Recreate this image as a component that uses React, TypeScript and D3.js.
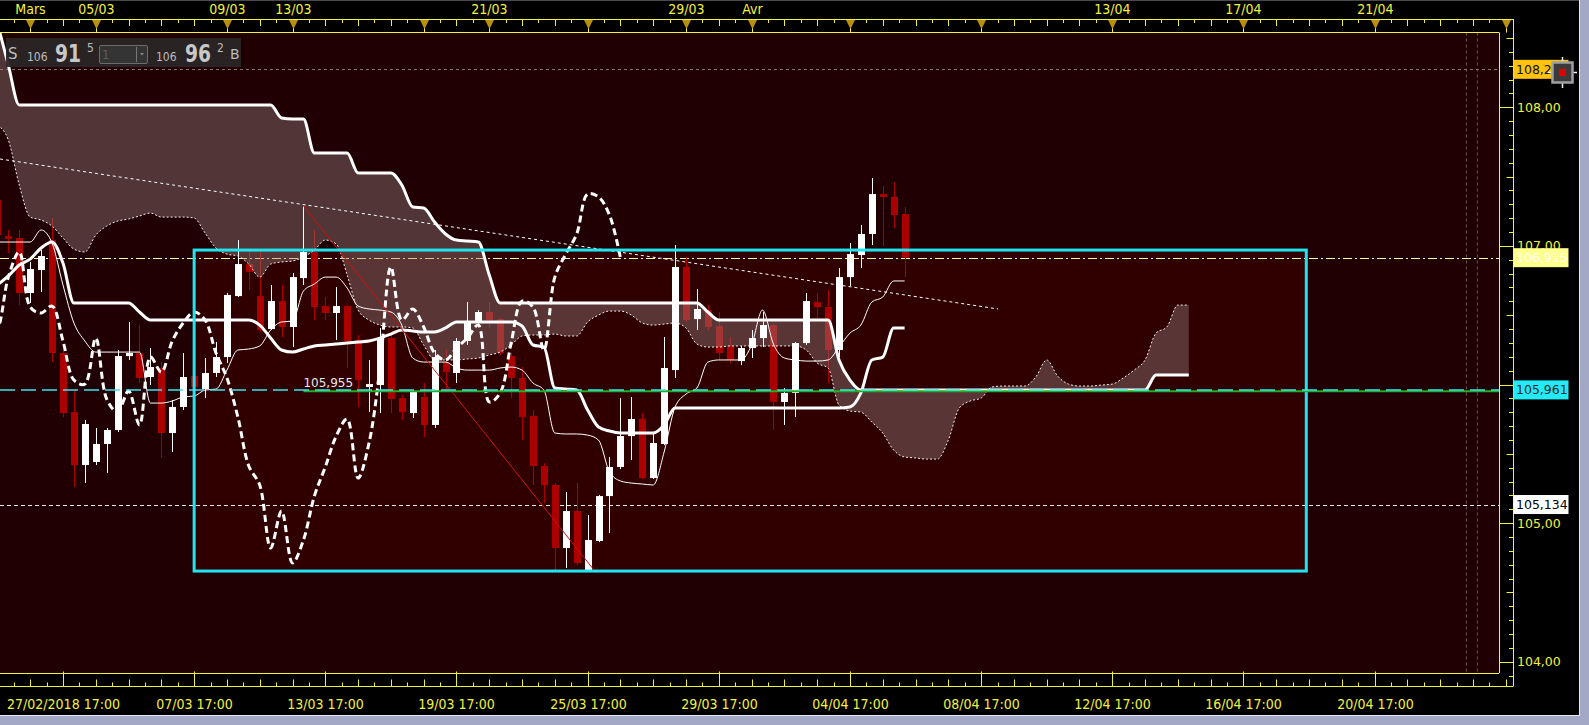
import * as d3 from 'd3';

const W = 1589;
const H = 725;

// 8h bars, index 0 = partial bar on the left edge
const opens = [
  107.331, 107.071, 107.057, 106.66, 106.826, 107.042, 106.227, 105.801, 105.419, 105.441,
  105.571, 105.672, 106.205, 106.227, 106.054, 106.119, 105.65, 105.838, 106.061, 105.967,
  106.083, 106.198, 106.638, 106.869, 106.638, 106.4, 106.602, 106.415, 106.768, 106.956,
  106.566, 106.516, 106.566, 106.321, 105.982, 105.996, 106.335, 105.902, 105.794, 105.91,
  105.708, 106.162, 106.083, 106.314, 106.451, 106.523, 106.472, 106.205, 106.047, 105.773,
  105.412, 105.275, 104.82, 105.087, 104.647, 104.871, 105.195, 105.405, 105.628, 105.751,
  105.325, 105.571, 106.104, 106.848, 106.472, 106.537, 106.422, 106.278, 106.169, 106.263,
  106.335, 106.429, 105.874, 105.939, 106.299, 106.595, 106.559, 106.249, 106.775, 106.934,
  107.086, 107.374, 107.353, 107.23,
];
const highs = [
  107.367, 107.115, 107.115, 106.884, 106.97, 107.201, 106.249, 105.96, 105.744, 105.686,
  105.686, 106.249, 106.451, 106.429, 106.263, 106.162, 105.888, 106.227, 106.198, 106.191,
  106.307, 106.66, 107.042, 106.97, 106.97, 106.718, 106.718, 106.804, 107.288, 107.115,
  106.631, 106.703, 106.573, 106.357, 106.177, 106.408, 106.379, 105.924, 105.96, 106.011,
  106.249, 106.249, 106.335, 106.595, 106.537, 106.595, 106.48, 106.227, 106.126, 105.816,
  105.433, 105.289, 105.224, 105.289, 105.058, 105.203, 105.477, 105.902, 105.91, 105.794,
  105.657, 106.343, 107.006, 106.92, 106.689, 106.573, 106.523, 106.343, 106.278, 106.393,
  106.523, 106.444, 105.975, 106.307, 106.66, 106.66, 106.682, 106.84, 107.021, 107.151,
  107.49, 107.432, 107.461, 107.28,
];
const lows = [
  107.006, 106.949, 106.573, 106.588, 106.667, 106.162, 105.765, 105.26, 105.289, 105.419,
  105.361, 105.657, 106.177, 106.011, 105.996, 105.47, 105.513, 105.816, 105.91, 105.902,
  106.054, 106.155, 106.631, 106.682, 106.379, 106.393, 106.343, 106.27, 106.718, 106.465,
  106.465, 106.321, 106.119, 105.838, 105.801, 105.794, 105.794, 105.744, 105.758, 105.621,
  105.686, 105.96, 106.011, 106.285, 106.444, 106.408, 106.213, 105.902, 105.599, 105.275,
  105.145, 104.647, 104.676, 104.698, 104.647, 104.863, 104.928, 105.39, 105.455, 105.318,
  105.318, 105.563, 106.047, 106.451, 106.393, 106.393, 106.177, 106.155, 106.14, 106.191,
  106.27, 105.672, 105.708, 105.765, 106.285, 106.465, 106.011, 106.198, 106.711, 106.84,
  107.006, 106.999, 107.129, 106.776,
];
const closes = [
  107.079, 107.05, 106.66, 106.833, 106.927, 106.227, 105.794, 105.419, 105.715, 105.571,
  105.672, 106.205, 106.227, 106.047, 106.126, 105.65, 105.838, 106.054, 105.982, 106.083,
  106.198, 106.646, 106.869, 106.812, 106.393, 106.602, 106.415, 106.775, 106.956, 106.559,
  106.516, 106.566, 106.314, 106.032, 106.003, 106.335, 105.895, 105.801, 105.953, 105.708,
  106.198, 106.09, 106.314, 106.444, 106.523, 106.465, 106.227, 106.047, 105.765, 105.412,
  105.275, 104.82, 105.087, 104.712, 104.878, 105.195, 105.405, 105.628, 105.751, 105.325,
  105.578, 106.119, 106.848, 106.465, 106.545, 106.415, 106.227, 106.177, 106.263, 106.335,
  106.429, 105.874, 105.939, 106.299, 106.602, 106.559, 106.249, 106.775, 106.941, 107.086,
  107.374, 107.353, 107.223, 106.915,
];

// Ichimoku lines
const tenkan = [
  107.028, 107.028, 107.028, 107.028, 107.115, 107.021, 106.718, 106.444, 106.314, 106.234,
  106.234, 106.234, 106.234, 106.234, 105.866, 105.866, 105.881, 105.91, 105.917, 105.96,
  105.967, 106.104, 106.249, 106.256, 106.278, 106.393, 106.451, 106.458, 106.674, 106.725,
  106.775, 106.775, 106.696, 106.566, 106.545, 106.537, 106.523, 106.429, 106.191, 106.162,
  106.162, 106.162, 106.119, 106.104, 106.104, 106.104, 106.119, 106.126, 106.104, 106.011,
  105.96, 105.65, 105.643, 105.643, 105.635, 105.599, 105.369, 105.304, 105.289, 105.282,
  105.275, 105.513, 105.837, 105.931, 105.975, 106.162, 106.177, 106.177, 106.177, 106.285,
  106.537, 106.292, 106.191, 106.177, 106.169, 106.169, 106.177, 106.27, 106.371, 106.429,
  106.595, 106.631, 106.747, 106.747,
];
const kijun = [
  106.718, 106.783, 106.862, 106.905, 106.985, 107.028, 106.876, 106.588, 106.588, 106.588,
  106.588, 106.588, 106.588, 106.523, 106.465, 106.465, 106.465, 106.465, 106.465, 106.465,
  106.465, 106.465, 106.465, 106.465, 106.429, 106.335, 106.249, 106.234, 106.256, 106.278,
  106.285, 106.292, 106.299, 106.307, 106.314, 106.335, 106.364, 106.393, 106.386, 106.379,
  106.379, 106.408, 106.451, 106.451, 106.451, 106.451, 106.451, 106.451, 106.422, 106.285,
  106.27, 105.975, 105.967, 105.96, 105.816, 105.693, 105.664, 105.65, 105.65, 105.65,
  105.65, 105.708, 105.83, 105.83, 105.83, 105.83, 105.83, 105.83, 105.83, 105.83,
  105.83, 105.83, 105.83, 105.83, 105.83, 105.83, 105.83, 105.83, 105.837, 105.939,
  106.177, 106.198, 106.408, 106.408,
];
// senkou spans, already projected 26 bars ahead (index 0..109)
const senkouA = [
  107.872, 107.764, 107.439, 107.208, 107.187, 107.143, 107.057, 106.977, 106.956, 107.078,
  107.143, 107.179, 107.194, 107.216, 107.237, 107.208, 107.208, 107.208, 107.201, 107.093,
  106.985, 106.941, 106.927, 106.869, 106.775, 106.869, 106.884, 106.891, 106.92, 106.97,
  107.042, 107.014, 106.79, 106.537, 106.465, 106.429, 106.415, 106.415, 106.408, 106.285,
  106.177, 106.177, 106.177, 106.184, 106.191, 106.213, 106.234, 106.285, 106.35, 106.357,
  106.357, 106.364, 106.35, 106.35, 106.451, 106.501, 106.53, 106.53, 106.501, 106.444,
  106.429, 106.436, 106.444, 106.408, 106.292, 106.27, 106.27, 106.278, 106.278, 106.278,
  106.278, 106.278, 106.278, 106.278, 106.249, 106.155, 106.119, 105.852, 105.809, 105.801,
  105.729, 105.65, 105.527, 105.477, 105.47, 105.462, 105.462, 105.599, 105.83, 105.881,
  105.902, 105.982, 105.989, 105.989, 105.989, 106.054, 106.177, 106.061, 106.003, 105.989,
  105.989, 105.996, 106.003, 106.047, 106.104, 106.177, 106.371, 106.415, 106.573, 106.573,
];
const senkouB = [
  108.608, 108.305, 108.017, 108.017, 108.017, 108.017, 108.017, 108.017, 108.017, 108.017,
  108.017, 108.017, 108.017, 108.017, 108.017, 108.017, 108.017, 108.017, 108.017, 108.017,
  108.017, 108.017, 108.017, 108.017, 108.017, 108.017, 107.923, 107.915, 107.915, 107.67,
  107.67, 107.67, 107.67, 107.526, 107.526, 107.526, 107.526, 107.439, 107.281, 107.273,
  107.172, 107.086, 107.042, 107.035, 107.028, 106.79, 106.588, 106.588, 106.588, 106.588,
  106.588, 106.588, 106.588, 106.588, 106.588, 106.588, 106.588, 106.588, 106.588, 106.588,
  106.588, 106.588, 106.588, 106.588, 106.588, 106.523, 106.465, 106.465, 106.465, 106.465,
  106.465, 106.465, 106.465, 106.465, 106.465, 106.465, 106.465, 106.177, 106.032, 105.961,
  105.961, 105.961, 105.961, 105.961, 105.961, 105.961, 105.961, 105.961, 105.961, 105.961,
  105.961, 105.961, 105.961, 105.961, 105.961, 105.961, 105.961, 105.961, 105.961, 105.961,
  105.961, 105.961, 105.961, 105.961, 105.961, 105.961, 106.068, 106.068, 106.068, 106.068,
];
const CHIKOU_SHIFT = 26;

// drawings
const trendLine: [number, number][] = [[0.24, 107.627], [91.55, 106.545]];
const redLine: [number, number][] = [[28, 107.288], [54.8, 104.64]];
const zoneBox = { from: 18, to: 119.75, top: 106.97, bottom: 104.654 };
const greenLevel = { from: 28, price: 105.955, label: '105,955' };
const markerBars = [134.4, 135.4];

const levels = [
  { price: 108.274, label: '108,274', box: '#ffc20e', text: '#111', stroke: '#8a6e6e', dash: '3,3' },
  { price: 106.915, label: '106,915', box: '#ffff8c', text: '#ffffff', stroke: '#ffffa8', dash: '9,3,2,3' },
  { price: 105.961, label: '105,961', box: '#22eaf6', text: '#2a2a2a', stroke: '#3fe4ee', dash: '15,6' },
  { price: 105.134, label: '105,134', box: '#ffffff', text: '#000', stroke: '#e8e8e8', dash: '4,3' },
];

const priceLabels = [108, 107, 106, 105, 104];

const topMarks = [
  { i: 3, label: 'Mars' }, { i: 9, label: '05/03' }, { i: 21, label: '09/03' },
  { i: 27, label: '13/03' }, { i: 39, label: '' }, { i: 45, label: '21/03' },
  { i: 54, label: '' }, { i: 63, label: '29/03' }, { i: 69, label: 'Avr' },
  { i: 78, label: '' }, { i: 90, label: '' }, { i: 102, label: '13/04' },
  { i: 114, label: '17/04' }, { i: 126, label: '21/04' }, { i: 138, label: '' },
];
const bottomMarks = [
  { i: 6, label: '27/02/2018 17:00' }, { i: 18, label: '07/03 17:00' },
  { i: 30, label: '13/03 17:00' }, { i: 42, label: '19/03 17:00' },
  { i: 54, label: '25/03 17:00' }, { i: 66, label: '29/03 17:00' },
  { i: 78, label: '04/04 17:00' }, { i: 90, label: '08/04 17:00' },
  { i: 102, label: '12/04 17:00' }, { i: 114, label: '16/04 17:00' },
  { i: 126, label: '20/04 17:00' },
];

const PL = 0;
const PR = 1499;
const PT = 32.5;
const PB = 673;
const AX = 1513;

const COND = "'DejaVu Sans Condensed', 'DejaVu Sans', sans-serif";
const SANS = "'DejaVu Sans', Verdana, sans-serif";
const YEL = '#f2f23c';

export default function App() {
  const x = d3.scaleLinear().domain([0, 83]).range([-2.6, 904.6]);
  const y = d3.scaleLinear().domain([104, 108]).range([661.7, 107.3]);

  const idxLine = (arr: number[], curve: d3.CurveFactory = d3.curveMonotoneX) =>
    d3.line<number>().x((_, i) => x(i)).y((d) => y(d)).curve(curve)(arr) || '';

  const cloud =
    d3.area<number>()
      .x((_, i) => x(i))
      .y0((d) => y(d))
      .y1((_, i) => y(senkouB[i]))
      .curve(d3.curveMonotoneX)(senkouA) || '';

  const chikouPts = closes
    .map((c, i) => [i - CHIKOU_SHIFT, c] as [number, number])
    .filter(([j]) => j >= -1);
  const chikou =
    d3.line<[number, number]>().x((d) => x(d[0])).y((d) => y(d[1]))
      .curve(d3.curveCatmullRom.alpha(0.5))(chikouPts) || '';

  const seg = (pts: [number, number][]) =>
    d3.line<[number, number]>().x((d) => x(d[0])).y((d) => y(d[1]))(pts) || '';

  const candles = opens.map((o, i) => ({
    cx: Math.round(x(i)),
    up: closes[i] >= o,
    top: y(Math.max(o, closes[i])),
    bot: y(Math.min(o, closes[i])),
    hi: y(highs[i]),
    lo: y(lows[i]),
  }));

  const candle = (c: typeof candles[number], i: number, color: string) => (
    <g key={i}>
      <line x1={c.cx + 0.5} x2={c.cx + 0.5} y1={c.hi} y2={c.lo} stroke={color} strokeWidth={1} />
      <rect x={c.cx - 3} y={c.top} width={7} height={Math.max(1.5, c.bot - c.top)} fill={color} />
    </g>
  );

  const minorIdx = d3.range(0, 139, 1.5);
  const topMajor = new Set(topMarks.map((m) => m.i));
  const botMajor = new Set(bottomMarks.map((m) => m.i));

  const priceTicks = d3.range(1039, 1086).map((v) => v / 10).filter((v) => y(v) > PT && y(v) < PB + 4);
  // axis labels hidden behind a value box are not drawn
  const shownPriceLabels = priceLabels.filter(
    (v) => !levels.some((l) => Math.abs(y(l.price) - y(v)) < 10)
  );

  return (
    <svg
      width={W}
      height={H}
      style={{ position: 'fixed', left: 0, top: 0, display: 'block' }}
      xmlns="http://www.w3.org/2000/svg"
    >
      <defs>
        <clipPath id="plot">
          <rect x={PL} y={PT} width={PR - PL} height={PB - PT} />
        </clipPath>
      </defs>
      <rect width={W} height={H} fill="#000" />
      <line x1={0} x2={1579} y1={0.5} y2={0.5} stroke="#4a4a4a" />
      <rect x={1579} y={0} width={10} height={H} fill="#a2a8c6" />
      <line x1={1579.5} x2={1579.5} y1={0} y2={H} stroke="#e6e8f2" />
      <rect x={0} y={715} width={W} height={10} fill="#a2a8c6" />
      <line x1={0} x2={1580} y1={715.5} y2={715.5} stroke="#e6e8f2" />

      <g clipPath="url(#plot)">
        <rect x={PL} y={PT} width={PR - PL} height={PB - PT} fill="#210003" />
        <rect
          x={x(zoneBox.from)}
          y={y(zoneBox.top)}
          width={x(zoneBox.to) - x(zoneBox.from)}
          height={y(zoneBox.bottom) - y(zoneBox.top)}
          fill="#300000"
        />
        {markerBars.map((m) => (
          <line key={m} x1={x(m)} x2={x(m)} y1={PT} y2={PB} stroke="#6e5656" strokeDasharray="3,3" />
        ))}
        {levels
          .filter((l) => l.price !== 105.961)
          .map((l) => (
            <line
              key={l.label}
              x1={PL}
              x2={PR}
              y1={Math.round(y(l.price)) + 0.5}
              y2={Math.round(y(l.price)) + 0.5}
              stroke={l.stroke}
              strokeDasharray={l.dash}
              strokeWidth={1}
            />
          ))}

        {candles.map((c, i) => (c.up ? null : candle(c, i, '#ac0000')))}
        <path d={cloud} fill="rgba(150,126,126,0.42)" />
        {candles.map((c, i) => (c.up ? candle(c, i, '#ffffff') : null))}

        <path d={idxLine(senkouA)} fill="none" stroke="#f0f0f0" strokeWidth={1} strokeDasharray="2,2" />
        <path d={idxLine(senkouB)} fill="none" stroke="#fff" strokeWidth={3} strokeLinejoin="round" />
        <path d={idxLine(kijun)} fill="none" stroke="#fff" strokeWidth={3} strokeLinejoin="round" />
        <path d={idxLine(tenkan)} fill="none" stroke="#fff" strokeWidth={1} />
        <path d={chikou} fill="none" stroke="#fff" strokeWidth={3} strokeDasharray="7,4" />
        <path d={seg(trendLine)} fill="none" stroke="#fff" strokeWidth={1} strokeDasharray="3,3" />
        <path d={seg(redLine)} fill="none" stroke="#d01010" strokeWidth={1} />

        <rect
          x={x(zoneBox.from)}
          y={y(zoneBox.top)}
          width={x(zoneBox.to) - x(zoneBox.from)}
          height={y(zoneBox.bottom) - y(zoneBox.top)}
          fill="none"
          stroke="#22e4f0"
          strokeWidth={3}
        />
        <line
          x1={x(greenLevel.from)}
          x2={PR}
          y1={y(greenLevel.price) + 0.5}
          y2={y(greenLevel.price) + 0.5}
          stroke="#22b022"
          strokeWidth={2}
        />
        <line
          x1={PL}
          x2={PR}
          y1={y(105.961)}
          y2={y(105.961)}
          stroke="#3fe4ee"
          strokeWidth={1.5}
          strokeDasharray="15,6"
        />
        <text
          x={x(greenLevel.from)}
          y={y(greenLevel.price) - 4}
          fill="#e8e8e8"
          fontFamily={SANS}
          fontSize={12}
        >
          {greenLevel.label}
        </text>
      </g>

      {/* quote panel */}
      <g>
        <rect x={6} y={38} width={235} height={29} fill="#2a2526" opacity={0.95} />
        <text x={8} y={58.5} fill="#bdbdbd" fontFamily={SANS} fontSize={15}>S</text>
        <text x={27} y={61} fill="#bdbdbd" fontFamily={COND} fontStretch="condensed" fontSize={12}>106</text>
        <text x={55} y={62} fill="#c8c8c8" fontFamily={COND} fontStretch="condensed" fontWeight="bold" fontSize={25} textLength={26} lengthAdjust="spacingAndGlyphs">91</text>
        <text x={87} y={52} fill="#bdbdbd" fontFamily={COND} fontSize={12}>5</text>
        <rect x={99.5} y={45.5} width={48} height={18} fill="#343434" stroke="#6c6c6c" rx={1.5} />
        <text x={102} y={59} fill="#5c5c5c" fontFamily={COND} fontSize={13}>1</text>
        <line x1={136.5} x2={136.5} y1={47} y2={62} stroke="#777" />
        <path d="M140,53 L144,53 L142,55.5 Z" fill="#888" />
        <text x={156} y={61} fill="#bdbdbd" fontFamily={COND} fontStretch="condensed" fontSize={12}>106</text>
        <text x={185} y={62} fill="#c8c8c8" fontFamily={COND} fontStretch="condensed" fontWeight="bold" fontSize={25} textLength={26} lengthAdjust="spacingAndGlyphs">96</text>
        <text x={217} y={52} fill="#bdbdbd" fontFamily={COND} fontSize={12}>2</text>
        <text x={230} y={58.5} fill="#bdbdbd" fontFamily={SANS} fontSize={14}>B</text>
      </g>

      {/* frame lines */}
      <line x1={PL} x2={PR} y1={PT} y2={PT} stroke={YEL} />
      <line x1={PR + 0.5} x2={PR + 0.5} y1={PT} y2={PB} stroke={YEL} />
      <line x1={PL} x2={PR} y1={PB + 0.5} y2={PB + 0.5} stroke={YEL} />
      <line x1={0} x2={AX} y1={19.5} y2={19.5} stroke={YEL} />
      <line x1={AX + 0.5} x2={AX + 0.5} y1={19} y2={686.5} stroke={YEL} />
      <line x1={0} x2={AX} y1={686.5} y2={686.5} stroke={YEL} />

      {/* top axis */}
      {minorIdx.map((v) =>
        topMajor.has(v) ? null : (
          <line
            key={'tm' + v}
            x1={Math.round(x(v)) + 0.5}
            x2={Math.round(x(v)) + 0.5}
            y1={19.5}
            y2={v % 3 === 0 ? 26 : 23}
            stroke={YEL}
          />
        )
      )}
      {topMarks.map((m) => {
        const cx = Math.round(x(m.i)) + 0.5;
        return (
          <g key={'tt' + m.i}>
            <line x1={cx} x2={cx} y1={20} y2={PT} stroke={YEL} />
            <path d={`M${cx - 4.5},20 L${cx + 4.5},20 L${cx},29 Z`} fill="#b8900c" />
            {m.label && (
              <text x={cx} y={14} textAnchor="middle" fill={YEL} fontFamily={COND} fontStretch="condensed" fontSize={14}>
                {m.label}
              </text>
            )}
          </g>
        );
      })}

      {/* bottom axis */}
      {minorIdx.map((v) =>
        botMajor.has(v) ? null : (
          <line
            key={'bm' + v}
            x1={Math.round(x(v)) + 0.5}
            x2={Math.round(x(v)) + 0.5}
            y1={686}
            y2={v % 3 === 0 ? 679.5 : 682.5}
            stroke={YEL}
          />
        )
      )}
      {bottomMarks.map((m) => {
        const cx = Math.round(x(m.i)) + 0.5;
        return (
          <g key={'bt' + m.i}>
            <line x1={cx} x2={cx} y1={686} y2={671.5} stroke={YEL} />
            <text x={cx} y={708.5} textAnchor="middle" fill={YEL} fontFamily={COND} fontStretch="condensed" fontSize={14}>
              {m.label}
            </text>
          </g>
        );
      })}

      {/* right axis */}
      {priceTicks.map((v) => {
        const r = Math.round(v * 10);
        const len = r % 10 === 0 ? 14 : r % 5 === 0 ? 6.5 : 4;
        const yy = Math.round(y(v)) + 0.5;
        return <line key={'pt' + r} x1={AX - len} x2={AX} y1={yy} y2={yy} stroke={YEL} />;
      })}
      {shownPriceLabels.map((v) => (
        <text key={'pl' + v} x={AX + 4} y={y(v) + 4.5} fill={YEL} fontFamily={SANS} fontSize={12.5}>
          {d3.format('.2f')(v).replace('.', ',')}
        </text>
      ))}
      {levels.map((l) => (
        <g key={'lb' + l.label}>
          <rect x={AX + 0.5} y={y(l.price) - 9.5} width={55} height={19} fill={l.box} />
          <text x={AX + 3} y={y(l.price) + 4.5} fill={l.text} fontFamily={SANS} fontSize={12.5}>
            {l.label}
          </text>
        </g>
      ))}

      {/* crosshair cursor icon */}
      <g>
        <line x1={1562.5} x2={1562.5} y1={57} y2={88} stroke="#f4f4f4" strokeWidth={1.5} />
        <line x1={1548} x2={1577} y1={72.5} y2={72.5} stroke="#f4f4f4" strokeWidth={1.5} />
        <rect x={1552.5} y={62.5} width={20} height={20} fill="#3a3a3a" stroke="#a0a0a0" strokeWidth={2.5} />
        <rect x={1559} y={69} width={7} height={7} fill="#e00000" />
      </g>
    </svg>
  );
}
